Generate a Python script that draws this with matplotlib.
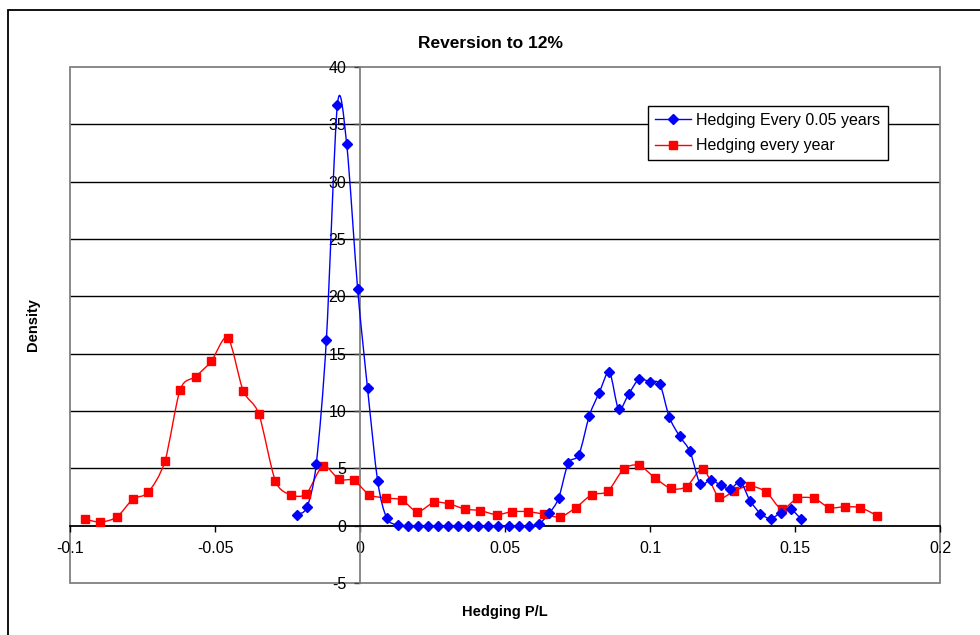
import matplotlib
matplotlib.use("Agg")
import matplotlib.pyplot as plt
import numpy as np
from matplotlib.path import Path
from matplotlib.patches import PathPatch, Rectangle
from matplotlib.lines import Line2D

plt.rcParams['font.family'] = ['Liberation Sans', 'DejaVu Sans']
plt.rcParams['axes.unicode_minus'] = False

# Hedging P/L densities
x_fast = [-0.0218, -0.0183, -0.0151, -0.0116, -0.0078, -0.0046, -0.0008, 0.0026,
          0.0061, 0.0092, 0.0130, 0.0164, 0.0199, 0.0236, 0.0270, 0.0302, 0.0337,
          0.0371, 0.0408, 0.0442, 0.0477, 0.0514, 0.0548, 0.0583, 0.0617, 0.0653,
          0.0685, 0.0718, 0.0755, 0.0791, 0.0825, 0.0860, 0.0892, 0.0927, 0.0962,
          0.0999, 0.1034, 0.1066, 0.1102, 0.1138, 0.1173, 0.1209, 0.1244, 0.1276,
          0.1312, 0.1345, 0.1381, 0.1416, 0.1451, 0.1485, 0.1520]
y_fast = [0.96, 1.6, 5.34, 16.2, 36.7, 33.3, 20.6, 11.98,
          3.86, 0.67, 0.03, 0.0, 0.0, 0.0, 0.0, 0.0, 0.0,
          0.0, 0.0, 0.0, 0.0, 0.0, 0.0, 0.0, 0.15, 1.1,
          2.4, 5.45, 6.2, 9.6, 11.6, 13.4, 10.15, 11.5, 12.77,
          12.55, 12.35, 9.49, 7.8, 6.47, 3.65, 4.0, 3.52, 3.19,
          3.8, 2.18, 1.05, 0.61, 1.13, 1.42, 0.61]

x_year = [-0.0948, -0.0895, -0.0838, -0.0783, -0.0731, -0.0673, -0.0620, -0.0567,
          -0.0513, -0.0456, -0.0403, -0.0349, -0.0292, -0.0238, -0.0185, -0.0128,
          -0.0072, -0.0021, 0.0032, 0.0090, 0.0144, 0.0198, 0.0255, 0.0308, 0.0362,
          0.0415, 0.0471, 0.0525, 0.0580, 0.0636, 0.0690, 0.0744, 0.0799, 0.0854,
          0.0909, 0.0962, 0.1018, 0.1072, 0.1126, 0.1183, 0.1237, 0.1291, 0.1344,
          0.1401, 0.1454, 0.1508, 0.1566, 0.1618, 0.1671, 0.1725, 0.1784]
y_year = [0.56, 0.32, 0.76, 2.32, 2.9, 5.6, 11.87, 13.0,
          14.33, 16.4, 11.78, 9.75, 3.92, 2.7, 2.79, 5.2,
          4.04, 3.95, 2.7, 2.41, 2.24, 1.22, 2.03, 1.89, 1.45,
          1.31, 0.96, 1.22, 1.22, 0.99, 0.76, 1.57, 2.7, 2.99,
          4.93, 5.26, 4.15, 3.25, 3.4, 4.95, 2.47, 3.05, 3.46,
          2.93, 1.45, 2.38, 2.38, 1.57, 1.65, 1.57, 0.87]

x_ticks = [-0.1, -0.05, 0, 0.05, 0.1, 0.15, 0.2]
x_ticklabels = ['-0.1', '-0.05', '0', '0.05', '0.1', '0.15', '0.2']
y_ticks = [-5, 0, 5, 10, 15, 20, 25, 30, 35, 40]

label_fast = 'Hedging Every 0.05 years'
label_year = 'Hedging every year'
title = 'Reversion to 12%'


def smooth_path(xs, ys, k=1 / 7.0):
    """Cubic Bezier path through the points (spreadsheet-style smoothed line)."""
    p = np.column_stack([xs, ys]).astype(float)
    n = len(p)
    verts = [p[0]]
    codes = [Path.MOVETO]
    for i in range(n - 1):
        p0 = p[i - 1] if i > 0 else p[i]
        p1 = p[i]
        p2 = p[i + 1]
        p3 = p[i + 2] if i + 2 < n else p[i + 1]
        c1 = p1 + (p2 - p0) * k
        c2 = p2 - (p3 - p1) * k
        verts += [c1, c2, p2]
        codes += [Path.CURVE4] * 3
    return Path(verts, codes)


W, H = 980, 635
fig = plt.figure(figsize=(W / 100, H / 100), dpi=100)

# outer chart frame
fig.add_artist(Rectangle((8 / W, -0.05), 1.1, 1 - 10 / H + 0.05, transform=fig.transFigure,
                         fill=False, ec='black', lw=1.3))

left, right, top, bottom = 70, 940, 67, 583
ax = fig.add_axes([left / W, 1 - bottom / H, (right - left) / W, (bottom - top) / H])
ax.set_xlim(-0.1, 0.2)
ax.set_ylim(-5, 40)

# plot-area border
ax.add_patch(Rectangle((0, 0), 1, 1, transform=ax.transAxes, fill=False,
                       ec='#808080', lw=1.3, zorder=1.5, clip_on=False))

# horizontal gridlines
for yv in y_ticks:
    if -5 < yv < 40 and yv != 0:
        ax.axhline(yv, color='black', lw=1.0, zorder=1)

ax.spines['top'].set_visible(False)
ax.spines['right'].set_visible(False)
ax.spines['left'].set_position(('data', 0))
ax.spines['left'].set_color('#808080')
ax.spines['left'].set_linewidth(1.3)
ax.spines['bottom'].set_position(('data', 0))
ax.spines['bottom'].set_color('black')
ax.spines['bottom'].set_linewidth(1.3)

ax.set_xticks(x_ticks)
ax.set_xticklabels(x_ticklabels)
ax.set_yticks(y_ticks)
ax.set_yticklabels([str(v) for v in y_ticks])
ax.tick_params(axis='x', direction='out', length=4, width=1, color='black',
               labelsize=11.5, pad=7)
ax.tick_params(axis='y', direction='out', length=4, width=1, color='#404040',
               labelsize=11.5, pad=6)

# smoothed series lines
ax.add_patch(PathPatch(smooth_path(x_year, y_year), fill=False, ec='#ff0000',
                       lw=1.0, zorder=3))
ax.add_patch(PathPatch(smooth_path(x_fast, y_fast), fill=False, ec='#0000ff',
                       lw=1.0, zorder=4))
ax.plot(x_year, y_year, linestyle='none', marker='s', ms=5.6, color='#ff0000',
        mec='#ff0000', zorder=5)
ax.plot(x_fast, y_fast, linestyle='none', marker='D', ms=5.0, color='#0000ff',
        mec='#0000ff', zorder=6)

handles = [Line2D([], [], color='#0000ff', lw=1.0, marker='D', ms=5.0),
           Line2D([], [], color='#ff0000', lw=1.0, marker='s', ms=5.6)]
leg = fig.legend(handles, [label_fast, label_year], loc='upper left',
                 bbox_to_anchor=(647.5 / W, 1 - 105.7 / H), borderaxespad=0,
                 fontsize=11.5, frameon=True, fancybox=False, framealpha=1,
                 edgecolor='black', handlelength=2.3, handletextpad=0.3,
                 borderpad=0.45, labelspacing=0.65)
leg.get_frame().set_linewidth(1.0)

fig.text(490 / W, 1 - 44 / H, title, ha='center', va='center',
         fontsize=12.5, fontweight='bold')
fig.text(33 / W, 1 - 325 / H, 'Density', ha='center', va='center', rotation=90,
         fontsize=10.5, fontweight='bold')
fig.text(505 / W, 1 - 612 / H, 'Hedging P/L', ha='center', va='center',
         fontsize=10.5, fontweight='bold')

fig.savefig('out.png', dpi=100)
